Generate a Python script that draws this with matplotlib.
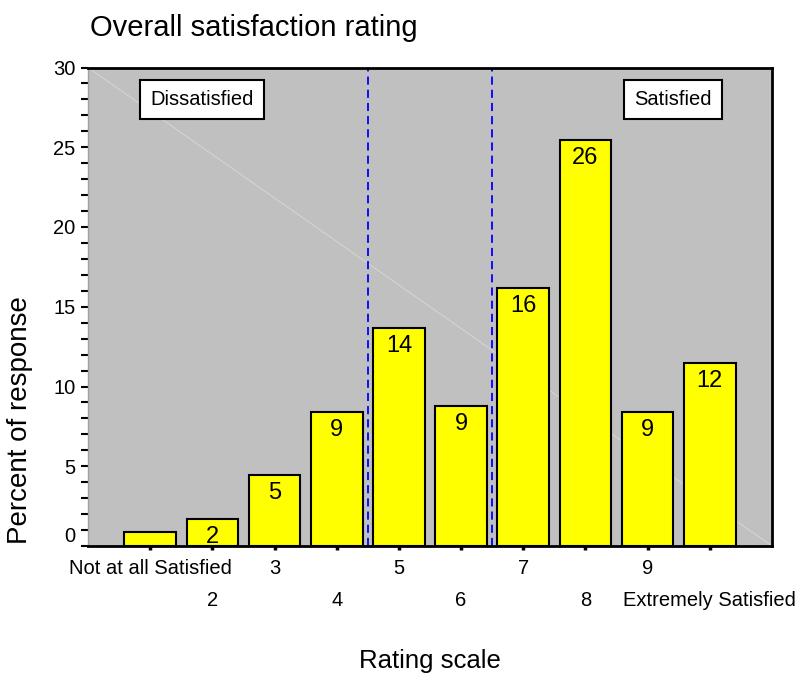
import matplotlib
matplotlib.use("Agg")
import matplotlib.pyplot as plt
import matplotlib.transforms as mtransforms
from matplotlib.ticker import MultipleLocator

plt.rcParams['font.family'] = ['Liberation Sans', 'DejaVu Sans']

positions = [1, 2, 3, 4, 5, 6, 7, 8, 9, 10]
values = [0.9, 1.7, 4.45, 8.4, 13.65, 8.8, 16.2, 25.45, 8.4, 11.45]
bar_labels = ["", "2", "5", "9", "14", "9", "16", "26", "9", "12"]
tick_labels = ["Not at all Satisfied", "2", "3", "4", "5", "6", "7", "8", "9",
               "Extremely Satisfied"]
cut_points = [4.5, 6.5]
region_names = ["Dissatisfied", "Satisfied"]
region_x = [1.83, 9.41]
region_y = 28.0

fig = plt.figure(figsize=(8.02, 6.75), dpi=100)
ax = fig.add_axes([88/802, 1-546/675, (772-88)/802, (546-67.5)/675])
ax.set_facecolor('#C0C0C0')
ax.set_xlim(0, 11)
ax.set_ylim(0, 30)

# faint diagonal artefact line
ax.plot([0, 1], [1, 0], transform=ax.transAxes, color='#d9d9d9', lw=0.6, zorder=0.5)

ax.bar(positions, values, width=0.83, color='#FFFF00', edgecolor='black',
       linewidth=1.5, zorder=2)

for x, v, lab in zip(positions, values, bar_labels):
    if lab:
        ax.annotate(lab, (x, v), xytext=(0, -5), textcoords='offset points',
                    ha='center', va='top', fontsize=17, zorder=3)

for c in cut_points:
    ax.axvline(c, color='#0000FF', lw=1.3, linestyle=(0, (4.5, 2.8)), zorder=1.5)

for name, rx in zip(region_names, region_x):
    ax.text(rx, region_y, name, ha='center', va='center', fontsize=14.5,
            bbox=dict(boxstyle='square,pad=0.5', facecolor='white',
                      edgecolor='black', linewidth=1.5), zorder=4)

# spines
for s in ['top', 'right', 'bottom']:
    ax.spines[s].set_linewidth(2)
    ax.spines[s].set_color('black')
ax.spines['left'].set_linewidth(1)
ax.spines['left'].set_color('#a0a0a0')

ax.yaxis.set_major_locator(MultipleLocator(5))
ax.yaxis.set_minor_locator(MultipleLocator(1))
ax.tick_params(axis='y', which='both', direction='out', length=5, width=1.5,
               color='black', labelsize=14.5, pad=4)
ax.set_xticks(positions)
ax.set_xticklabels(tick_labels)
ax.tick_params(axis='x', which='both', direction='out', length=3, width=2.5,
               color='black', labelsize=14.5, pad=6)

fig.canvas.draw()
for i, lab in enumerate(ax.get_xticklabels()):
    if i % 2 == 1:
        lab.set_transform(lab.get_transform() + mtransforms.ScaledTranslation(
            0, -33/100, fig.dpi_scale_trans))
ylabs = ax.get_yticklabels()
for lab in ylabs:
    if lab.get_text() == '0':
        lab.set_transform(lab.get_transform() + mtransforms.ScaledTranslation(
            0, 11/100, fig.dpi_scale_trans))

fig.text(90/802, 1-28/675, "Overall satisfaction rating", fontsize=21,
         ha='left', va='center')
fig.text(430/802, 1-661/675, "Rating scale", fontsize=18.5, ha='center', va='center')
fig.text(20/802, 1-420/675, "Percent of response", fontsize=20, rotation=90,
         ha='center', va='center')

fig.savefig('out.png', dpi=100)
